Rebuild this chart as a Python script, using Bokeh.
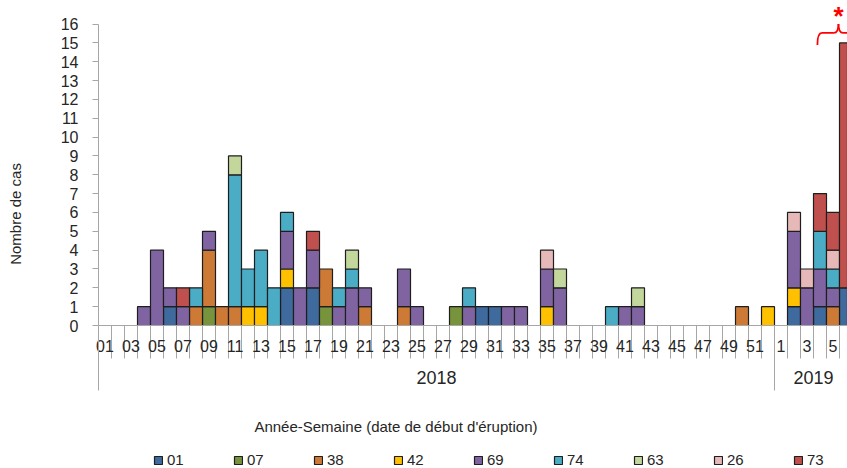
from bokeh.plotting import figure
from bokeh.layouts import column
from bokeh.models import (ColumnDataSource, FixedTicker, LinearAxis, Range1d,
                          Legend, LegendItem, Label)
from bokeh.embed import file_html
from bokeh.resources import INLINE

# ---------------- data ----------------
# categories: 2018 weeks 01..52, then 2019 weeks 1..6
n_2018 = 52
n_2019 = 6
labels_2018 = ["01", "03", "05", "07", "09", "11", "13", "15", "17", "19", "21", "23", "25",
               "27", "29", "31", "33", "35", "37", "39", "41", "43", "45", "47", "49", "51"]
labels_2019 = ["1", "3", "5"]
year_labels = ["2018", "2019"]

dept_codes = ["01", "07", "38", "42", "69", "74", "63", "26", "73"]
dept_colors = ["#3E6A9E", "#77933C", "#CD7A37", "#FFC000", "#8064A2",
               "#4BACC6", "#C3D69B", "#E6B9B8", "#C0504D"]

c01 = [0,0,0,0,0,1,0,0,0,0, 0,0,0,0,2,0,2,0,0,0, 0,0,0,0,0,0,0,0,0,1,
       1,0,0,0,0,0,0,0,0,0, 0,0,0,0,0,0,0,0,0,0, 0,0, 0,1,0,1,0,2]
c07 = [0,0,0,0,0,0,0,0,1,0, 0,0,0,0,0,0,0,1,0,0, 0,0,0,0,0,0,0,1,0,0,
       0,0,0,0,0,0,0,0,0,0, 0,0,0,0,0,0,0,0,0,0, 0,0, 0,0,0,0,0,0]
c38 = [0,0,0,0,0,0,0,1,3,1, 1,0,0,0,0,0,0,2,0,0, 1,0,0,1,0,0,0,0,0,0,
       0,0,0,0,0,0,0,0,0,0, 0,0,0,0,0,0,0,0,0,1, 0,0, 0,0,0,0,1,0]
c42 = [0,0,0,0,0,0,0,0,0,0, 0,1,1,0,1,0,0,0,0,0, 0,0,0,0,0,0,0,0,0,0,
       0,0,0,0,1,0,0,0,0,0, 0,0,0,0,0,0,0,0,0,0, 0,1, 0,1,0,0,0,0]
c69 = [0,0,0,1,4,1,1,0,1,0, 0,0,0,0,2,2,2,0,1,2, 1,0,0,2,1,0,0,0,1,0,
       0,1,1,0,2,2,0,0,0,0, 1,1,0,0,0,0,0,0,0,0, 0,0, 0,3,2,2,1,0]
c74 = [0,0,0,0,0,0,0,1,0,0, 7,2,3,2,1,0,0,0,1,1, 0,0,0,0,0,0,0,0,1,0,
       0,0,0,0,0,0,0,0,0,1, 0,0,0,0,0,0,0,0,0,0, 0,0, 0,0,0,2,1,0]
c63 = [0,0,0,0,0,0,0,0,0,0, 1,0,0,0,0,0,0,0,0,1, 0,0,0,0,0,0,0,0,0,0,
       0,0,0,0,0,1,0,0,0,0, 0,1,0,0,0,0,0,0,0,0, 0,0, 0,0,0,0,0,0]
c26 = [0,0,0,0,0,0,0,0,0,0, 0,0,0,0,0,0,0,0,0,0, 0,0,0,0,0,0,0,0,0,0,
       0,0,0,0,1,0,0,0,0,0, 0,0,0,0,0,0,0,0,0,0, 0,0, 0,1,1,0,1,0]
c73 = [0,0,0,0,0,0,1,0,0,0, 0,0,0,0,0,0,1,0,0,0, 0,0,0,0,0,0,0,0,0,0,
       0,0,0,0,0,0,0,0,0,0, 0,0,0,0,0,0,0,0,0,0, 0,0, 0,0,0,2,2,13]
series = [c01, c07, c38, c42, c69, c74, c63, c26, c73]

# ---------------- figure ----------------
FONT = "Liberation Sans"
TXT = "#262626"
GRAY = "#A6A6A6"
EDGE = "#1E1E1E"

n_cat = n_2018 + n_2019
p = figure(width=847, height=450, output_backend="svg", toolbar_location=None,
           x_range=Range1d(-0.5, 57.115), y_range=Range1d(0, 17.25),
           min_border_left=98, min_border_right=0, min_border_top=0,
           min_border_bottom=125, title=None)
p.outline_line_color = None
p.grid.visible = False
p.background_fill_color = "white"
p.border_fill_color = "white"

# stacked bars
x_all = list(range(n_cat))
base = [0] * n_cat
for code, col, vals in zip(dept_codes, dept_colors, series):
    xs, bots, tops = [], [], []
    for i in x_all:
        if vals[i] > 0:
            xs.append(i)
            bots.append(base[i])
            tops.append(base[i] + vals[i])
        base[i] += vals[i]
    src = ColumnDataSource(dict(x=xs, bottom=bots, top=tops))
    p.vbar(x="x", bottom="bottom", top="top", width=1.0, source=src,
           fill_color=col, line_color=EDGE, line_width=1.2)

# y axis
ya = p.yaxis[0]
ya.ticker = FixedTicker(ticks=list(range(0, 17)))
ya.bounds = (0, 16)
ya.axis_line_color = GRAY
ya.major_tick_line_color = GRAY
ya.major_tick_out = 6
ya.major_tick_in = 0
ya.minor_tick_out = 0
ya.minor_tick_in = 0
ya.major_label_standoff = 14
ya.major_label_text_font = FONT
ya.major_label_text_font_size = "16px"
ya.major_label_text_color = TXT

# y title (rotated label of an extra left axis, placed like the original)
ytitle_y = 5.92
yt = LinearAxis(ticker=FixedTicker(ticks=[ytitle_y]),
                major_label_overrides={ytitle_y: "Nombre de cas"},
                major_label_orientation="vertical")
yt.axis_line_color = None
yt.major_tick_out = 0
yt.major_tick_in = 0
yt.minor_tick_out = 0
yt.minor_tick_in = 0
yt.major_label_standoff = 33
yt.major_label_text_font = FONT
yt.major_label_text_font_size = "15px"
yt.major_label_text_color = TXT
p.add_layout(yt, "left")

# x axis: week labels + week separators
pos = [int(w) - 1 for w in labels_2018] + [n_2018 + int(w) - 1 for w in labels_2019]
overrides = {i: t for i, t in zip(pos, labels_2018 + labels_2019)}
xa = p.xaxis[0]
xa.ticker = FixedTicker(ticks=pos, minor_ticks=[i - 0.5 for i in range(n_cat + 1)])
xa.major_label_overrides = overrides
xa.axis_line_color = GRAY
xa.major_tick_out = 0
xa.major_tick_in = 0
xa.minor_tick_in = 0
xa.minor_tick_out = 33
xa.minor_tick_line_color = GRAY
xa.major_label_standoff = -19
xa.major_label_text_font = FONT
xa.major_label_text_font_size = "16px"
xa.major_label_text_color = TXT

# year axis + year separators
yr_centers = [(n_2018 - 1) / 2, n_2018 + (n_2019 - 1) / 2]
ya2 = LinearAxis(ticker=FixedTicker(ticks=yr_centers, minor_ticks=[-0.5, n_2018 - 0.5]),
                 major_label_overrides={c: t for c, t in zip(yr_centers, year_labels)})
ya2.axis_line_color = None
ya2.major_tick_out = 0
ya2.major_tick_in = 0
ya2.minor_tick_in = 26
ya2.minor_tick_out = 36
ya2.minor_tick_line_color = GRAY
ya2.major_label_standoff = -20
ya2.major_label_text_font = FONT
ya2.major_label_text_font_size = "18px"
ya2.major_label_text_color = TXT
p.add_layout(ya2, "below")

# axis title (positioned as in the original)
title_x = 22.38
ta = LinearAxis(ticker=FixedTicker(ticks=[title_x]),
                major_label_overrides={title_x: "Année-Semaine (date de début d'éruption)"})
ta.axis_line_color = None
ta.major_tick_out = 0
ta.major_tick_in = 0
ta.minor_tick_out = 0
ta.minor_tick_in = 0
ta.major_label_standoff = 31
ta.major_label_text_font = FONT
ta.major_label_text_font_size = "15px"
ta.major_label_text_color = TXT
p.add_layout(ta, "below")

# red brace + asterisk
xc, xl, half = 56.42, 54.8, 1.62
y_end, y_mid, y_peak = 14.89, 15.53, 16.0
xr = xc + half
p.quadratic(x0=[xl, xc - 0.35, xc + 0.35, xr], y0=[y_end, y_mid, y_mid, y_end],
            x1=[xl + 0.35, xc, xc, xr - 0.35], y1=[y_mid, y_peak, y_peak, y_mid],
            cx=[xl, xc, xc, xr], cy=[y_mid, y_mid, y_mid, y_mid],
            line_color="#FF0000", line_width=1.8)
p.segment(x0=[xl + 0.35, xc + 0.35], y0=[y_mid, y_mid],
          x1=[xc - 0.35, xr - 0.35], y1=[y_mid, y_mid],
          line_color="#FF0000", line_width=1.8)
p.add_layout(Label(x=xc, y=17.25, text="*", text_align="center", text_baseline="top",
                   text_font=FONT, text_font_size="26px", text_font_style="bold",
                   text_color="#FF0000"))

# ---------------- legend strip ----------------
pl = figure(width=847, height=18, output_backend="svg", toolbar_location=None,
            x_range=Range1d(0, 1), y_range=Range1d(0, 1),
            x_axis_type=None, y_axis_type=None, min_border=0, title=None)
pl.outline_line_color = None
pl.grid.visible = False
pl.border_fill_color = "white"
# legend swatches: one hidden (off-range) glyph per colour, used only for the legend keys
swatch_src = ColumnDataSource(dict(x=[-10.0], top=[-10.0]))
swatches = [pl.vbar(x="x", top="top", bottom=-11.0, width=1.0, source=swatch_src,
                    fill_color=col, line_color=EDGE, line_width=1.2)
            for col in dept_colors]
legend = Legend(items=[LegendItem(label=c, renderers=[r]) for c, r in zip(dept_codes, swatches)],
                orientation="horizontal", location=(55, 0),
                glyph_width=10, glyph_height=10, label_standoff=4, label_width=20,
                label_height=12, spacing=46, padding=0, margin=0,
                border_line_color=None, background_fill_alpha=0,
                label_text_font=FONT, label_text_font_size="15px",
                label_text_color=TXT)
pl.add_layout(legend, "center")

open("out.html", "w").write(file_html(column(p, pl, spacing=0), INLINE))
